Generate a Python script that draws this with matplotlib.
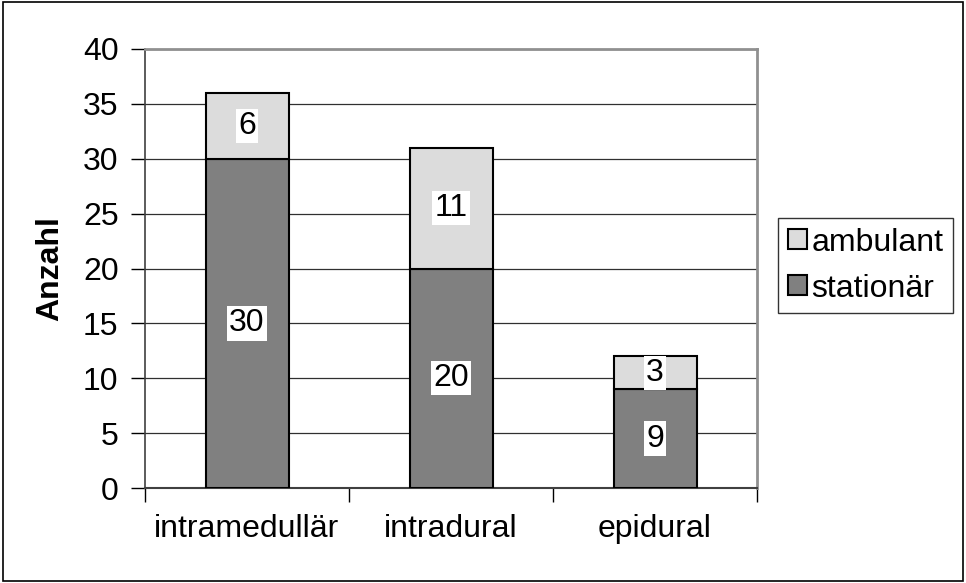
import matplotlib
matplotlib.use("Agg")
import matplotlib.pyplot as plt
from matplotlib.patches import Rectangle

plt.rcParams['font.family'] = ['Liberation Sans', 'DejaVu Sans']

categories = ["intramedullär", "intradural", "epidural"]
stationaer = [30, 20, 9]
ambulant = [6, 11, 3]
series_names = ["ambulant", "stationär"]
yticks = [0, 5, 10, 15, 20, 25, 30, 35, 40]

FS = 23
W, H = 966, 583
fig = plt.figure(figsize=(W / 100, H / 100), dpi=100)
fig.patches.append(Rectangle((3 / W, 2 / H), 960 / W, 579 / H, transform=fig.transFigure,
                             fill=False, edgecolor='black', linewidth=1.2))

ax = fig.add_axes([145 / W, (H - 488) / H, (757 - 145) / W, (488 - 49) / H])

x = [i + 0.5 for i in range(len(categories))]
bw = 83 / 204
c_st = '#808080'
c_am = '#dcdcdc'
b1 = ax.bar(x, stationaer, width=bw, color=c_st, edgecolor='black', linewidth=1.5, zorder=3,
            label=series_names[1])
b2 = ax.bar(x, ambulant, width=bw, bottom=stationaer, color=c_am, edgecolor='black',
            linewidth=1.5, zorder=3, label=series_names[0])

for xi, s, a in zip(x, stationaer, ambulant):
    ax.text(xi, s / 2, str(s), ha='center', va='center', fontsize=FS, zorder=5,
            bbox=dict(facecolor='white', edgecolor='none', pad=1.5))
    ax.text(xi, s + a / 2, str(a), ha='center', va='center', fontsize=FS, zorder=5,
            bbox=dict(facecolor='white', edgecolor='none', pad=1.5))

ax.set_xlim(0, 3)
ax.set_ylim(0, 40)
ax.set_yticks(yticks)
ax.set_yticklabels([str(t) for t in yticks], fontsize=FS)
ax.yaxis.grid(True, color='#303030', linewidth=0.9, zorder=0)
ax.set_axisbelow(True)

ax.set_xticks(x)
ax.set_xticklabels(categories, fontsize=FS)
ax.set_xticks([0, 1, 2, 3], minor=True)
ax.tick_params(axis='x', which='major', length=0, pad=19)
ax.tick_params(axis='x', which='minor', length=10, width=1.0, direction='out', color='black')
ax.tick_params(axis='y', length=10, width=1.0, direction='out', pad=9)

for side in ['top', 'right']:
    ax.spines[side].set_color('#909090')
    ax.spines[side].set_linewidth(2)
ax.spines['left'].set_color('#404040')
ax.spines['bottom'].set_color('#404040')
ax.spines['left'].set_linewidth(1.2)
ax.spines['bottom'].set_linewidth(1.5)

ax.set_ylabel("Anzahl", fontsize=FS, fontweight='bold', labelpad=13)

leg = fig.legend(handles=[b2, b1], labels=series_names, loc='upper left',
                 bbox_to_anchor=(778 / W, 1 - 218 / H), fontsize=FS, frameon=True,
                 fancybox=False, edgecolor='black', handlelength=0.6, handleheight=0.6,
                 handletextpad=0.15, borderpad=0.3, labelspacing=0.5, borderaxespad=0)
leg.get_frame().set_linewidth(1.0)

fig.savefig("out.png", dpi=100)
